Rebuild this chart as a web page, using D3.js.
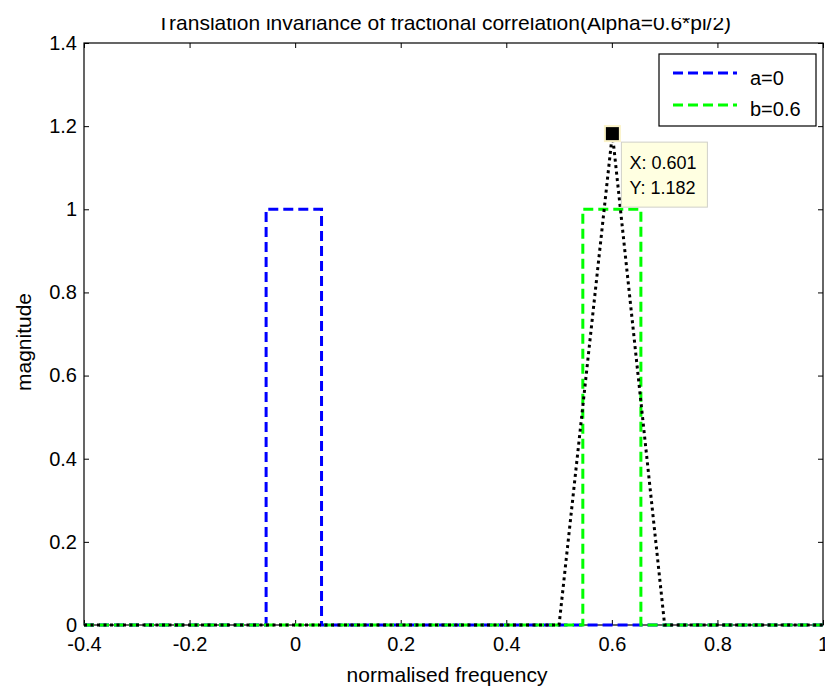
<!DOCTYPE html>
<html>
<head>
<meta charset="utf-8">
<script src="https://cdn.jsdelivr.net/npm/d3@7"></script>
<style>
  body { margin: 0; background: #fff; }
  svg { display: block; font-family: "Liberation Sans", Arial, sans-serif; }
  .tick-label { font-size: 20px; fill: #000; }
</style>
</head>
<body>
<svg width="825" height="688"></svg>
<script>
// series data
const aX = [-0.4, -0.055, -0.055, 0.05, 0.05, 1];
const aY = [0, 0, 1, 1, 0, 0];
const bX = [-0.4, 0.545, 0.545, 0.655, 0.655, 1];
const bY = [0, 0, 1, 1, 0, 0];
const cX = [-0.4, 0.5, 0.601, 0.7, 1];
const cY = [0, 0, 1.182, 0, 0];

const xTicks = [-0.4, -0.2, 0, 0.2, 0.4, 0.6, 0.8, 1];
const yTicks = [0, 0.2, 0.4, 0.6, 0.8, 1, 1.2, 1.4];
const legendNames = ["a=0", "b=0.6"];
const dataTip = { x: 0.601, y: 1.182 };

var svg = d3.select("svg"),
  plotLeft = 84,
  plotRight = 823,
  plotTop = 43,
  plotBottom = 625;

var xScale = d3.scaleLinear().domain([-0.4, 1]).range([plotLeft, plotRight]);
var yScale = d3.scaleLinear().domain([0, 1.4]).range([plotBottom, plotTop]);

// ===========================================================================
// AXES BOX + TICKS (matlab style, inward)
// ===========================================================================
var fmt = (d) => String(d);

svg.append("g")
  .attr("transform", "translate(0," + plotBottom + ")")
  .call(d3.axisBottom(xScale).tickValues(xTicks).tickSize(-5).tickPadding(13).tickFormat(fmt))
  .call((g) => g.select(".domain").remove())
  .selectAll("text").attr("class", "tick-label").attr("dy", "0.65em");

svg.append("g")
  .attr("transform", "translate(0," + plotTop + ")")
  .call(d3.axisTop(xScale).tickValues(xTicks).tickSize(-5).tickFormat(""))
  .call((g) => g.select(".domain").remove());

svg.append("g")
  .attr("transform", "translate(" + plotLeft + ",0)")
  .call(d3.axisLeft(yScale).tickValues(yTicks).tickSize(-5).tickPadding(7).tickFormat(fmt))
  .call((g) => g.select(".domain").remove())
  .selectAll("text").attr("class", "tick-label");

svg.append("g")
  .attr("transform", "translate(" + plotRight + ",0)")
  .call(d3.axisRight(yScale).tickValues(yTicks).tickSize(-5).tickFormat(""))
  .call((g) => g.select(".domain").remove());

svg.selectAll(".tick line").attr("stroke", "#000").attr("stroke-width", 1);
svg.selectAll(".tick text").attr("font-size", null).attr("font-family", null);

svg.append("rect")
  .attr("x", plotLeft).attr("y", plotTop)
  .attr("width", plotRight - plotLeft).attr("height", plotBottom - plotTop)
  .attr("fill", "none").attr("stroke", "#000").attr("stroke-width", 1.2);

// ===========================================================================
// LINES
// ===========================================================================
var line = d3.line().x((d) => xScale(d[0])).y((d) => yScale(d[1]));

svg.append("path")
  .datum(d3.zip(aX, aY))
  .attr("d", line)
  .attr("fill", "none").attr("stroke", "#0000ff").attr("stroke-width", 3)
  .attr("stroke-dasharray", "10,5");

svg.append("path")
  .datum(d3.zip(bX, bY))
  .attr("d", line)
  .attr("fill", "none").attr("stroke", "#00ff00").attr("stroke-width", 3)
  .attr("stroke-dasharray", "10,5");

svg.append("path")
  .datum(d3.zip(cX, cY))
  .attr("d", line)
  .attr("fill", "none").attr("stroke", "#000").attr("stroke-width", 3)
  .attr("stroke-dasharray", "3,3.5");

// ===========================================================================
// DATA TIP
// ===========================================================================
var tx = xScale(dataTip.x), ty = yScale(dataTip.y);
svg.append("rect")
  .attr("x", tx - 8.5).attr("y", ty - 8.5).attr("width", 17).attr("height", 17)
  .attr("fill", "#fbf3c8");
svg.append("rect")
  .attr("x", tx - 6.5).attr("y", ty - 6.5).attr("width", 13).attr("height", 13)
  .attr("fill", "#000");

var tip = svg.append("g").attr("transform", "translate(" + (tx + 9) + "," + (ty + 8.5) + ")");
tip.append("rect")
  .attr("width", 86).attr("height", 65)
  .attr("fill", "#ffffe1").attr("stroke", "#d0d0c8").attr("stroke-width", 1);
tip.append("text").attr("x", 8).attr("y", 27).attr("font-size", 18).text("X: " + dataTip.x);
tip.append("text").attr("x", 8).attr("y", 52).attr("font-size", 18).text("Y: " + dataTip.y);

// ===========================================================================
// LEGEND
// ===========================================================================
var legend = svg.append("g").attr("transform", "translate(659,54)");
legend.append("rect")
  .attr("width", 157).attr("height", 72)
  .attr("fill", "#fff").attr("stroke", "#000").attr("stroke-width", 1.2);
var legendColors = ["#0000ff", "#00ff00"];
legendNames.forEach((name, i) => {
  legend.append("line")
    .attr("x1", 14).attr("x2", 78)
    .attr("y1", 19 + i * 32).attr("y2", 19 + i * 32)
    .attr("stroke", legendColors[i]).attr("stroke-width", 3)
    .attr("stroke-dasharray", "10,5");
  legend.append("text")
    .attr("x", 91).attr("y", 31 + i * 31)
    .attr("font-size", 20)
    .text(name);
});

// ===========================================================================
// LABELS
// ===========================================================================
// title is cut at the top in the original figure
svg.append("clipPath").attr("id", "title-clip")
  .append("rect").attr("x", 0).attr("y", 18).attr("width", 825).attr("height", 30);

svg.append("text")
  .attr("clip-path", "url(#title-clip)")
  .attr("x", 157).attr("y", 30)
  .attr("font-size", 21)
  .text("Translation invariance of fractional correlation(Alpha=0.6*pi/2)");

svg.append("text")
  .attr("x", 447).attr("y", 682)
  .attr("text-anchor", "middle")
  .attr("font-size", 21)
  .text("normalised frequency");

svg.append("text")
  .attr("transform", "rotate(-90)")
  .attr("x", -342).attr("y", 31)
  .attr("text-anchor", "middle")
  .attr("font-size", 21)
  .text("magnitude");
</script>
</body>
</html>
